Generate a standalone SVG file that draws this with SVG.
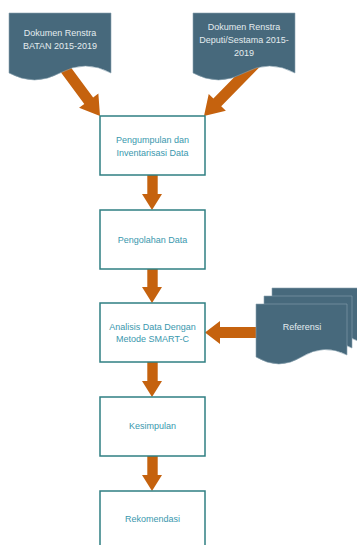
<svg xmlns="http://www.w3.org/2000/svg" width="357" height="545" viewBox="0 0 357 545">
<style>
.doc{fill:#47697C;stroke:#8aa3b0;stroke-width:0.6}
.box{fill:#ffffff;stroke:#2F7F82;stroke-width:1.5}
.arr{fill:#C5620E}
.dt{font-family:"Liberation Sans",Arial,sans-serif;font-size:9px;fill:#E4ECEF;text-anchor:middle}
.bt{font-family:"Liberation Sans",Arial,sans-serif;font-size:9px;fill:#3A98AE;text-anchor:middle}
</style>
<rect width="357" height="545" fill="#ffffff"/>
<g id="connectors">
<polygon class="arr" points="62.82,56.43 93.13,97.45 98.36,93.59 100,116 79.06,107.85 84.29,103.99 53.98,62.97"/>
<polygon class="arr" points="252.57,58.55 213.37,98.55 208.73,94 204,116 225.87,110.8 221.23,106.25 260.43,66.25"/>
<polygon class="arr" points="147.3,175 157.7,175 157.7,194 162,194 152,210 142,194 147.3,194"/>
<polygon class="arr" points="147.3,269 157.7,269 157.7,287 162,287 152,303 142,287 147.3,287"/>
<polygon class="arr" points="147.3,362 157.7,362 157.7,381 162,381 152,397 142,381 147.3,381"/>
<polygon class="arr" points="147.3,456 157.7,456 157.7,475 162,475 152,491 142,475 147.3,475"/>
<polygon class="arr" points="260,327 220,327 220,321 205,332.5 220,344 220,338 260,338"/>
</g>
<g id="doc-batan">
<path class="doc" d="M9,13 H111 V73 Q85.5,59 60,73 Q34.5,87 9,73 Z"/>
<text class="dt" x="60" y="36">Dokumen Renstra</text>
<text class="dt" x="60" y="49">BATAN 2015-2019</text>
</g>
<g id="doc-deputi">
<path class="doc" d="M193,13 H295 V73 Q269.5,59 244,73 Q218.5,87 193,73 Z"/>
<text class="dt" x="244" y="30">Dokumen Renstra</text>
<text class="dt" x="244" y="43">Deputi/Sestama 2015-</text>
<text class="dt" x="244" y="56">2019</text>
</g>
<g id="referensi">
<path class="doc" d="M272,288 H358 V341 Q336,329 315,343 Q293,357 272,343 Z"/>
<path class="doc" d="M264,296 H352 V348 Q330,336 308,350 Q286,364 264,350 Z"/>
<path class="doc" d="M256,304 H347 V355 Q324,343 301.5,357 Q279,371 256,357 Z"/>
<text class="dt" x="302" y="330">Referensi</text>
</g>
<g id="pengumpulan">
<rect class="box" x="100" y="116" width="105" height="59"/>
<text class="bt" x="152.5" y="143">Pengumpulan dan</text>
<text class="bt" x="152.5" y="156">Inventarisasi Data</text>
</g>
<g id="pengolahan">
<rect class="box" x="100" y="210" width="105" height="59"/>
<text class="bt" x="152.5" y="243">Pengolahan Data</text>
</g>
<g id="analisis">
<rect class="box" x="100" y="303" width="105" height="59"/>
<text class="bt" x="152.5" y="330">Analisis Data Dengan</text>
<text class="bt" x="152.5" y="342">Metode SMART-C</text>
</g>
<g id="kesimpulan">
<rect class="box" x="100" y="397" width="105" height="59"/>
<text class="bt" x="152.5" y="429">Kesimpulan</text>
</g>
<g id="rekomendasi">
<rect class="box" x="100" y="491" width="105" height="60"/>
<text class="bt" x="152.5" y="522">Rekomendasi</text>
</g>
</svg>
